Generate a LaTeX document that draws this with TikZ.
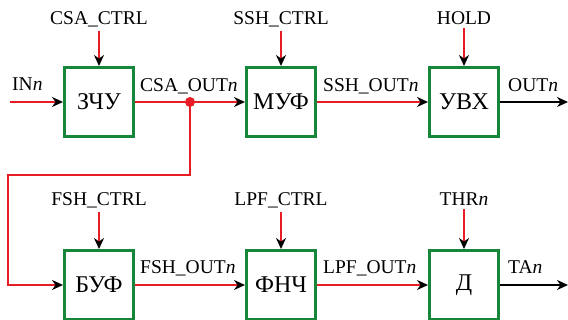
\documentclass[tikz,border=0pt]{standalone}
\usepackage{fontspec}
\setmainfont{Liberation Serif}
\usetikzlibrary{arrows.meta}
\definecolor{sigred}{RGB}{232,28,36}
\definecolor{boxgreen}{RGB}{22,134,58}

\begin{document}
\begin{tikzpicture}[x=1pt,y=-1pt,>=Stealth,
  font=\fontsize{19.5}{22}\selectfont,
  blk/.style={draw=boxgreen,line width=3pt,minimum width=69pt,
    minimum height=69pt,inner sep=0pt,fill=white,
    font=\fontsize{24}{26}\selectfont},
  sig/.style={draw=sigred,line width=2pt,-{Stealth[black,length=11pt,width=10pt]}},
  outsig/.style={draw=black,line width=2pt,-{Stealth[length=11pt,width=10pt]}},
  lbl/.style={inner sep=0pt,anchor=base west},
  ctl/.style={inner sep=0pt,anchor=base,outer sep=3pt}]
  \clip (0,0) rectangle (568,320);
  % blocks
  \node[blk] (zcu) at (99,102) {ЗЧУ};
  \node[blk] (muf) at (281,102) {МУФ};
  \node[blk] (uvx) at (464,102) {УВХ};
  \node[blk] (buf) at (99,285) {БУФ};
  \node[blk] (fnc) at (281,285) {ФНЧ};
  \node[blk] (det) at (464,285) {Д};
  % control inputs
  \node[ctl] (csactrl) at (99,25) {CSA\_CTRL};
  \node[ctl] (sshctrl) at (281,25) {SSH\_CTRL};
  \node[ctl] (hold) at (464,25) {HOLD};
  \node[ctl] (fshctrl) at (99,206) {FSH\_CTRL};
  \node[ctl] (lpfctrl) at (281,206) {LPF\_CTRL};
  \node[ctl] (thr) at (464,206) {THR\textit{n}};
  \foreach \c/\b in {csactrl/zcu,sshctrl/muf,hold/uvx,fshctrl/buf,lpfctrl/fnc,thr/det}
    \draw[sig] (\c.south) -- (\b);
  % signal chain
  \coordinate (in1) at (10,102);
  \coordinate (out1) at (568,102);
  \coordinate (out2) at (568,285);
  \coordinate (tap) at (190,102);
  \coordinate (fbl) at (8,175);
  \draw[sig] (in1) -- (zcu);
  \draw[sig] (zcu) -- (muf);
  \draw[sig] (muf) -- (uvx);
  \draw[outsig] (uvx) -- (out1);
  \draw[sig] (tap) |- (fbl) |- (buf);
  \draw[sig] (buf) -- (fnc);
  \draw[sig] (fnc) -- (det);
  \draw[outsig] (det) -- (out2);
  \fill[sigred] (tap) circle (5);
  % signal names
  \node[lbl] at (12,91) {IN\textit{n}};
  \node[lbl] at (140,92) {CSA\_OUT\textit{n}};
  \node[lbl] at (323,92) {SSH\_OUT\textit{n}};
  \node[lbl] at (508,92) {OUT\textit{n}};
  \node[lbl] at (140,274) {FSH\_OUT\textit{n}};
  \node[lbl] at (323,274) {LPF\_OUT\textit{n}};
  \node[lbl] at (508,274) {TA\textit{n}};
\end{tikzpicture}
\end{document}
